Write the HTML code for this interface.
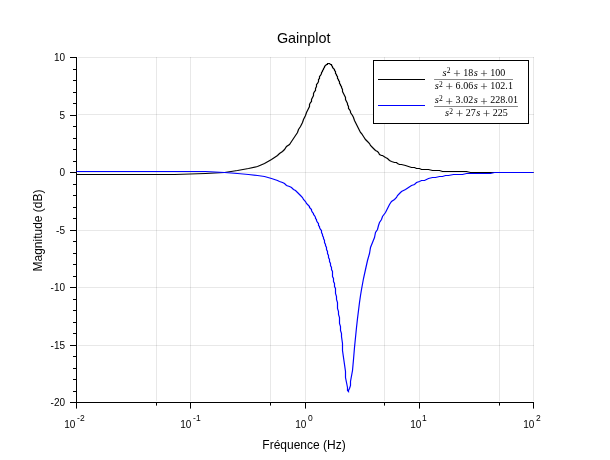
<!DOCTYPE html><html><head><meta charset="utf-8"><title>Gainplot</title><style>html,body{margin:0;padding:0;background:#fff;overflow:hidden}svg{display:block}</style></head><body>
<div style="will-change:transform;width:610px;height:460px">
<svg width="610" height="460" viewBox="0 0 610 460" font-family="Liberation Sans, sans-serif">
<rect x="0" y="0" width="610" height="460" fill="#fff"/>
<path d="M78,57.5H534M78,114.5H534M78,172.5H534M78,230.5H534M78,287.5H534M78,345.5H534" stroke="#000" stroke-opacity="0.09" stroke-width="1" fill="none" shape-rendering="crispEdges"/>
<path d="M156.5,57V401M190.5,57V401M270.5,57V401M305.5,57V401M384.5,57V401M419.5,57V401M499.5,57V401M533.5,57V401" stroke="#000" stroke-opacity="0.09" stroke-width="1" fill="none" shape-rendering="crispEdges"/>
<path d="M76.5,57V403M76,402.5H534M70,57.5H77M70,115.5H77M70,172.5H77M70,230.5H77M70,287.5H77M70,345.5H77M70,402.5H77M73,69.5H77M73,80.5H77M73,92.5H77M73,103.5H77M73,126.5H77M73,138.5H77M73,149.5H77M73,161.5H77M73,184.5H77M73,195.5H77M73,207.5H77M73,218.5H77M73,241.5H77M73,253.5H77M73,264.5H77M73,276.5H77M73,299.5H77M73,310.5H77M73,322.5H77M73,333.5H77M73,356.5H77M73,368.5H77M73,379.5H77M73,391.5H77" stroke="#000" stroke-width="1" fill="none" shape-rendering="crispEdges"/>
<path d="M76.5,403V408.6M190.5,403V408.6M305.5,403V408.6M419.5,403V408.6M533.5,403V408.6M156.5,403V405.6M270.5,403V405.6M384.5,403V405.6M499.5,403V405.6" stroke="#000" stroke-width="1" fill="none"/>
<polyline points="76.5,174.5 81.5,174.5 89.5,174.5 102.5,174.5 121.5,174.5 145.5,174.5 174.5,174.5 205.5,173.5 224.5,172.5 237.5,170.5 248.5,168.5 257.5,166.5 264.5,163.5 271.5,159.5 277.5,155.5 279.5,153.5 282.5,151.5 284.5,149.5 286.5,146.5 289.5,144.5 291.5,141.5 293.5,138.5 295.5,135.5 297.5,132.5 298.5,129.5 300.5,126.5 302.5,122.5 303.5,119.5 305.5,115.5 306.5,112.5 308.5,108.5 309.5,106.5 309.5,104.5 310.5,102.5 311.5,101.5 311.5,99.5 312.5,97.5 313.5,95.5 313.5,93.5 314.5,91.5 315.5,90.5 315.5,88.5 316.5,86.5 316.5,84.5 317.5,83.5 318.5,81.5 318.5,79.5 319.5,78.5 319.5,76.5 320.5,75.5 321.5,73.5 321.5,72.5 322.5,71.5 322.5,70.5 323.5,69.5 323.5,68.5 324.5,67.5 324.5,66.5 325.5,65.5 326.5,64.5 327.5,64.5 327.5,63.5 328.5,63.5 329.5,63.5 330.5,64.5 331.5,64.5 331.5,65.5 332.5,66.5 332.5,67.5 333.5,68.5 334.5,69.5 334.5,70.5 335.5,71.5 335.5,72.5 335.5,73.5 336.5,74.5 336.5,75.5 337.5,76.5 337.5,77.5 337.5,78.5 338.5,79.5 338.5,80.5 339.5,81.5 339.5,82.5 339.5,83.5 340.5,84.5 340.5,85.5 341.5,86.5 341.5,87.5 342.5,89.5 342.5,91.5 343.5,93.5 344.5,95.5 345.5,97.5 345.5,99.5 346.5,101.5 347.5,103.5 347.5,104.5 348.5,106.5 348.5,108.5 349.5,109.5 350.5,111.5 350.5,112.5 352.5,115.5 353.5,117.5 354.5,120.5 355.5,122.5 356.5,124.5 357.5,126.5 358.5,128.5 359.5,130.5 360.5,132.5 361.5,133.5 363.5,136.5 365.5,139.5 367.5,141.5 369.5,143.5 370.5,145.5 372.5,147.5 374.5,149.5 375.5,150.5 377.5,151.5 378.5,152.5 379.5,154.5 381.5,155.5 382.5,155.5 385.5,157.5 387.5,158.5 389.5,160.5 391.5,161.5 394.5,162.5 396.5,162.5 397.5,163.5 399.5,164.5 401.5,164.5 405.5,165.5 408.5,166.5 411.5,167.5 414.5,167.5 416.5,168.5 419.5,168.5 421.5,169.5 424.5,169.5 428.5,169.5 432.5,170.5 435.5,170.5 439.5,170.5 442.5,171.5 445.5,171.5 448.5,171.5 453.5,171.5 458.5,171.5 462.5,171.5 466.5,171.5 470.5,172.5 473.5,172.5 479.5,172.5 485.5,172.5 490.5,172.5 494.5,172.5 499.5,172.5 506.5,172.5 512.5,172.5 518.5,172.5 528.5,172.5 533.5,172.5" fill="none" stroke="#000" stroke-width="1.2"/>
<polyline points="76.5,171.5 81.5,171.5 89.5,171.5 102.5,171.5 121.5,171.5 145.5,171.5 174.5,171.5 205.5,171.5 224.5,172.5 237.5,173.5 248.5,174.5 257.5,175.5 264.5,176.5 271.5,178.5 277.5,180.5 279.5,181.5 282.5,182.5 284.5,183.5 286.5,185.5 289.5,186.5 291.5,187.5 293.5,189.5 295.5,190.5 297.5,192.5 298.5,193.5 300.5,195.5 302.5,197.5 303.5,199.5 305.5,201.5 306.5,203.5 308.5,205.5 309.5,206.5 309.5,207.5 310.5,208.5 311.5,209.5 311.5,210.5 312.5,212.5 313.5,213.5 313.5,214.5 314.5,215.5 315.5,217.5 315.5,218.5 316.5,219.5 316.5,220.5 317.5,222.5 318.5,223.5 318.5,225.5 319.5,226.5 319.5,227.5 320.5,229.5 321.5,230.5 321.5,232.5 322.5,234.5 322.5,235.5 323.5,237.5 323.5,238.5 324.5,240.5 324.5,242.5 325.5,244.5 325.5,245.5 326.5,247.5 326.5,249.5 327.5,251.5 327.5,253.5 328.5,255.5 328.5,257.5 329.5,259.5 329.5,261.5 330.5,263.5 330.5,265.5 331.5,267.5 331.5,269.5 332.5,271.5 332.5,274.5 332.5,276.5 333.5,278.5 333.5,281.5 334.5,283.5 334.5,286.5 335.5,288.5 335.5,291.5 335.5,293.5 336.5,296.5 336.5,299.5 337.5,302.5 337.5,305.5 337.5,308.5 338.5,311.5 338.5,314.5 339.5,317.5 339.5,320.5 339.5,323.5 340.5,326.5 340.5,330.5 341.5,333.5 341.5,336.5 342.5,343.5 342.5,350.5 343.5,357.5 344.5,364.5 345.5,371.5 345.5,377.5 346.5,382.5 347.5,387.5 347.5,390.5 348.5,391.5 348.5,390.5 349.5,388.5 350.5,385.5 350.5,381.5 352.5,370.5 353.5,359.5 354.5,347.5 355.5,337.5 356.5,327.5 357.5,318.5 358.5,310.5 359.5,302.5 360.5,295.5 361.5,289.5 363.5,278.5 365.5,269.5 367.5,260.5 369.5,253.5 370.5,247.5 372.5,242.5 374.5,237.5 375.5,232.5 377.5,229.5 378.5,225.5 379.5,222.5 381.5,219.5 382.5,216.5 385.5,212.5 387.5,208.5 389.5,204.5 391.5,201.5 394.5,199.5 396.5,197.5 397.5,195.5 399.5,193.5 401.5,191.5 405.5,189.5 408.5,187.5 411.5,185.5 414.5,184.5 416.5,182.5 419.5,181.5 421.5,180.5 424.5,180.5 428.5,178.5 432.5,177.5 435.5,177.5 439.5,176.5 442.5,176.5 445.5,175.5 448.5,175.5 453.5,174.5 458.5,174.5 462.5,174.5 466.5,173.5 470.5,173.5 473.5,173.5 479.5,173.5 485.5,173.5 490.5,173.5 494.5,172.5 499.5,172.5 506.5,172.5 512.5,172.5 518.5,172.5 528.5,172.5 533.5,172.5" fill="none" stroke="#00f" stroke-width="1.2"/>
<text x="65" y="60.5" font-size="10" text-anchor="end">10</text>
<text x="65" y="118.5" font-size="10" text-anchor="end">5</text>
<text x="65" y="175.5" font-size="10" text-anchor="end">0</text>
<text x="65" y="233.5" font-size="10" text-anchor="end">-5</text>
<text x="65" y="290.5" font-size="10" text-anchor="end">-10</text>
<text x="65" y="348.5" font-size="10" text-anchor="end">-15</text>
<text x="65" y="405.5" font-size="10" text-anchor="end">-20</text>
<text x="64.2" y="428" font-size="10">10</text>
<text x="77.1" y="421" font-size="8.5">-2</text>
<text x="180.2" y="428" font-size="10">10</text>
<text x="193.1" y="421" font-size="8.5">-1</text>
<text x="295.2" y="428" font-size="10">10</text>
<text x="308.1" y="421" font-size="8.5">0</text>
<text x="410.2" y="428" font-size="10">10</text>
<text x="422.1" y="421" font-size="8.5">1</text>
<text x="523.2" y="428" font-size="10">10</text>
<text x="536.1" y="421" font-size="8.5">2</text>
<text x="303.7" y="43" font-size="14.4" text-anchor="middle">Gainplot</text>
<text x="304" y="449" font-size="12" text-anchor="middle">Fréquence (Hz)</text>
<text transform="translate(42,230.5) rotate(-90)" font-size="12" text-anchor="middle">Magnitude (dB)</text>
<rect x="373.5" y="60.5" width="155" height="63" fill="#fff" stroke="#000" stroke-width="1" shape-rendering="crispEdges"/>
<path d="M378,79.5H425" stroke="#000" stroke-width="1" shape-rendering="crispEdges"/>
<path d="M378,105.5H425" stroke="#00f" stroke-width="1" shape-rendering="crispEdges"/>
<text x="442.48" y="75.8" font-family="Liberation Serif, serif" font-style="italic" font-size="10.4">s</text>
<text x="446.87" y="73.40" font-family="Liberation Serif, serif" font-size="7.5">2</text>
<text x="456.96" y="78.10" font-family="Liberation Serif, serif" font-size="13.2" fill="#222" text-anchor="middle">+</text>
<text x="465.77" y="75.8" font-family="Liberation Serif, serif" font-size="10" text-anchor="middle">1</text>
<text x="470.77" y="75.8" font-family="Liberation Serif, serif" font-size="10" text-anchor="middle">8</text>
<text x="473.87" y="75.8" font-family="Liberation Serif, serif" font-style="italic" font-size="10.4">s</text>
<text x="483.87" y="78.10" font-family="Liberation Serif, serif" font-size="13.2" fill="#222" text-anchor="middle">+</text>
<text x="492.68" y="75.8" font-family="Liberation Serif, serif" font-size="10" text-anchor="middle">1</text>
<text x="497.68" y="75.8" font-family="Liberation Serif, serif" font-size="10" text-anchor="middle">0</text>
<text x="502.68" y="75.8" font-family="Liberation Serif, serif" font-size="10" text-anchor="middle">0</text>
<text x="434.70" y="89.0" font-family="Liberation Serif, serif" font-style="italic" font-size="10.4">s</text>
<text x="439.09" y="86.90" font-family="Liberation Serif, serif" font-size="7.5">2</text>
<text x="449.18" y="91.30" font-family="Liberation Serif, serif" font-size="13.2" fill="#222" text-anchor="middle">+</text>
<text x="457.99" y="89.0" font-family="Liberation Serif, serif" font-size="10" text-anchor="middle">6</text>
<text x="461.88" y="89.0" font-family="Liberation Serif, serif" font-size="10" text-anchor="middle">.</text>
<text x="465.77" y="89.0" font-family="Liberation Serif, serif" font-size="10" text-anchor="middle">0</text>
<text x="470.77" y="89.0" font-family="Liberation Serif, serif" font-size="10" text-anchor="middle">6</text>
<text x="473.87" y="89.0" font-family="Liberation Serif, serif" font-style="italic" font-size="10.4">s</text>
<text x="483.87" y="91.30" font-family="Liberation Serif, serif" font-size="13.2" fill="#222" text-anchor="middle">+</text>
<text x="492.68" y="89.0" font-family="Liberation Serif, serif" font-size="10" text-anchor="middle">1</text>
<text x="497.68" y="89.0" font-family="Liberation Serif, serif" font-size="10" text-anchor="middle">0</text>
<text x="502.68" y="89.0" font-family="Liberation Serif, serif" font-size="10" text-anchor="middle">2</text>
<text x="506.57" y="89.0" font-family="Liberation Serif, serif" font-size="10" text-anchor="middle">.</text>
<text x="510.46" y="89.0" font-family="Liberation Serif, serif" font-size="10" text-anchor="middle">1</text>
<rect x="434.10" y="79" width="78.86" height="1" fill="#888"/>
<text x="434.70" y="103.3" font-family="Liberation Serif, serif" font-style="italic" font-size="10.4">s</text>
<text x="439.09" y="100.90" font-family="Liberation Serif, serif" font-size="7.5">2</text>
<text x="449.18" y="105.60" font-family="Liberation Serif, serif" font-size="13.2" fill="#222" text-anchor="middle">+</text>
<text x="457.99" y="103.3" font-family="Liberation Serif, serif" font-size="10" text-anchor="middle">3</text>
<text x="461.88" y="103.3" font-family="Liberation Serif, serif" font-size="10" text-anchor="middle">.</text>
<text x="465.77" y="103.3" font-family="Liberation Serif, serif" font-size="10" text-anchor="middle">0</text>
<text x="470.77" y="103.3" font-family="Liberation Serif, serif" font-size="10" text-anchor="middle">2</text>
<text x="473.87" y="103.3" font-family="Liberation Serif, serif" font-style="italic" font-size="10.4">s</text>
<text x="483.87" y="105.60" font-family="Liberation Serif, serif" font-size="13.2" fill="#222" text-anchor="middle">+</text>
<text x="492.68" y="103.3" font-family="Liberation Serif, serif" font-size="10" text-anchor="middle">2</text>
<text x="497.68" y="103.3" font-family="Liberation Serif, serif" font-size="10" text-anchor="middle">2</text>
<text x="502.68" y="103.3" font-family="Liberation Serif, serif" font-size="10" text-anchor="middle">8</text>
<text x="506.57" y="103.3" font-family="Liberation Serif, serif" font-size="10" text-anchor="middle">.</text>
<text x="510.46" y="103.3" font-family="Liberation Serif, serif" font-size="10" text-anchor="middle">0</text>
<text x="515.46" y="103.3" font-family="Liberation Serif, serif" font-size="10" text-anchor="middle">1</text>
<text x="444.98" y="115.9" font-family="Liberation Serif, serif" font-style="italic" font-size="10.4">s</text>
<text x="449.37" y="113.80" font-family="Liberation Serif, serif" font-size="7.5">2</text>
<text x="459.46" y="118.20" font-family="Liberation Serif, serif" font-size="13.2" fill="#222" text-anchor="middle">+</text>
<text x="468.27" y="115.9" font-family="Liberation Serif, serif" font-size="10" text-anchor="middle">2</text>
<text x="473.27" y="115.9" font-family="Liberation Serif, serif" font-size="10" text-anchor="middle">7</text>
<text x="476.37" y="115.9" font-family="Liberation Serif, serif" font-style="italic" font-size="10.4">s</text>
<text x="486.37" y="118.20" font-family="Liberation Serif, serif" font-size="13.2" fill="#222" text-anchor="middle">+</text>
<text x="495.18" y="115.9" font-family="Liberation Serif, serif" font-size="10" text-anchor="middle">2</text>
<text x="500.18" y="115.9" font-family="Liberation Serif, serif" font-size="10" text-anchor="middle">2</text>
<text x="505.18" y="115.9" font-family="Liberation Serif, serif" font-size="10" text-anchor="middle">5</text>
<rect x="434.10" y="106" width="83.86" height="1" fill="#888"/>
</svg></div></body></html>
